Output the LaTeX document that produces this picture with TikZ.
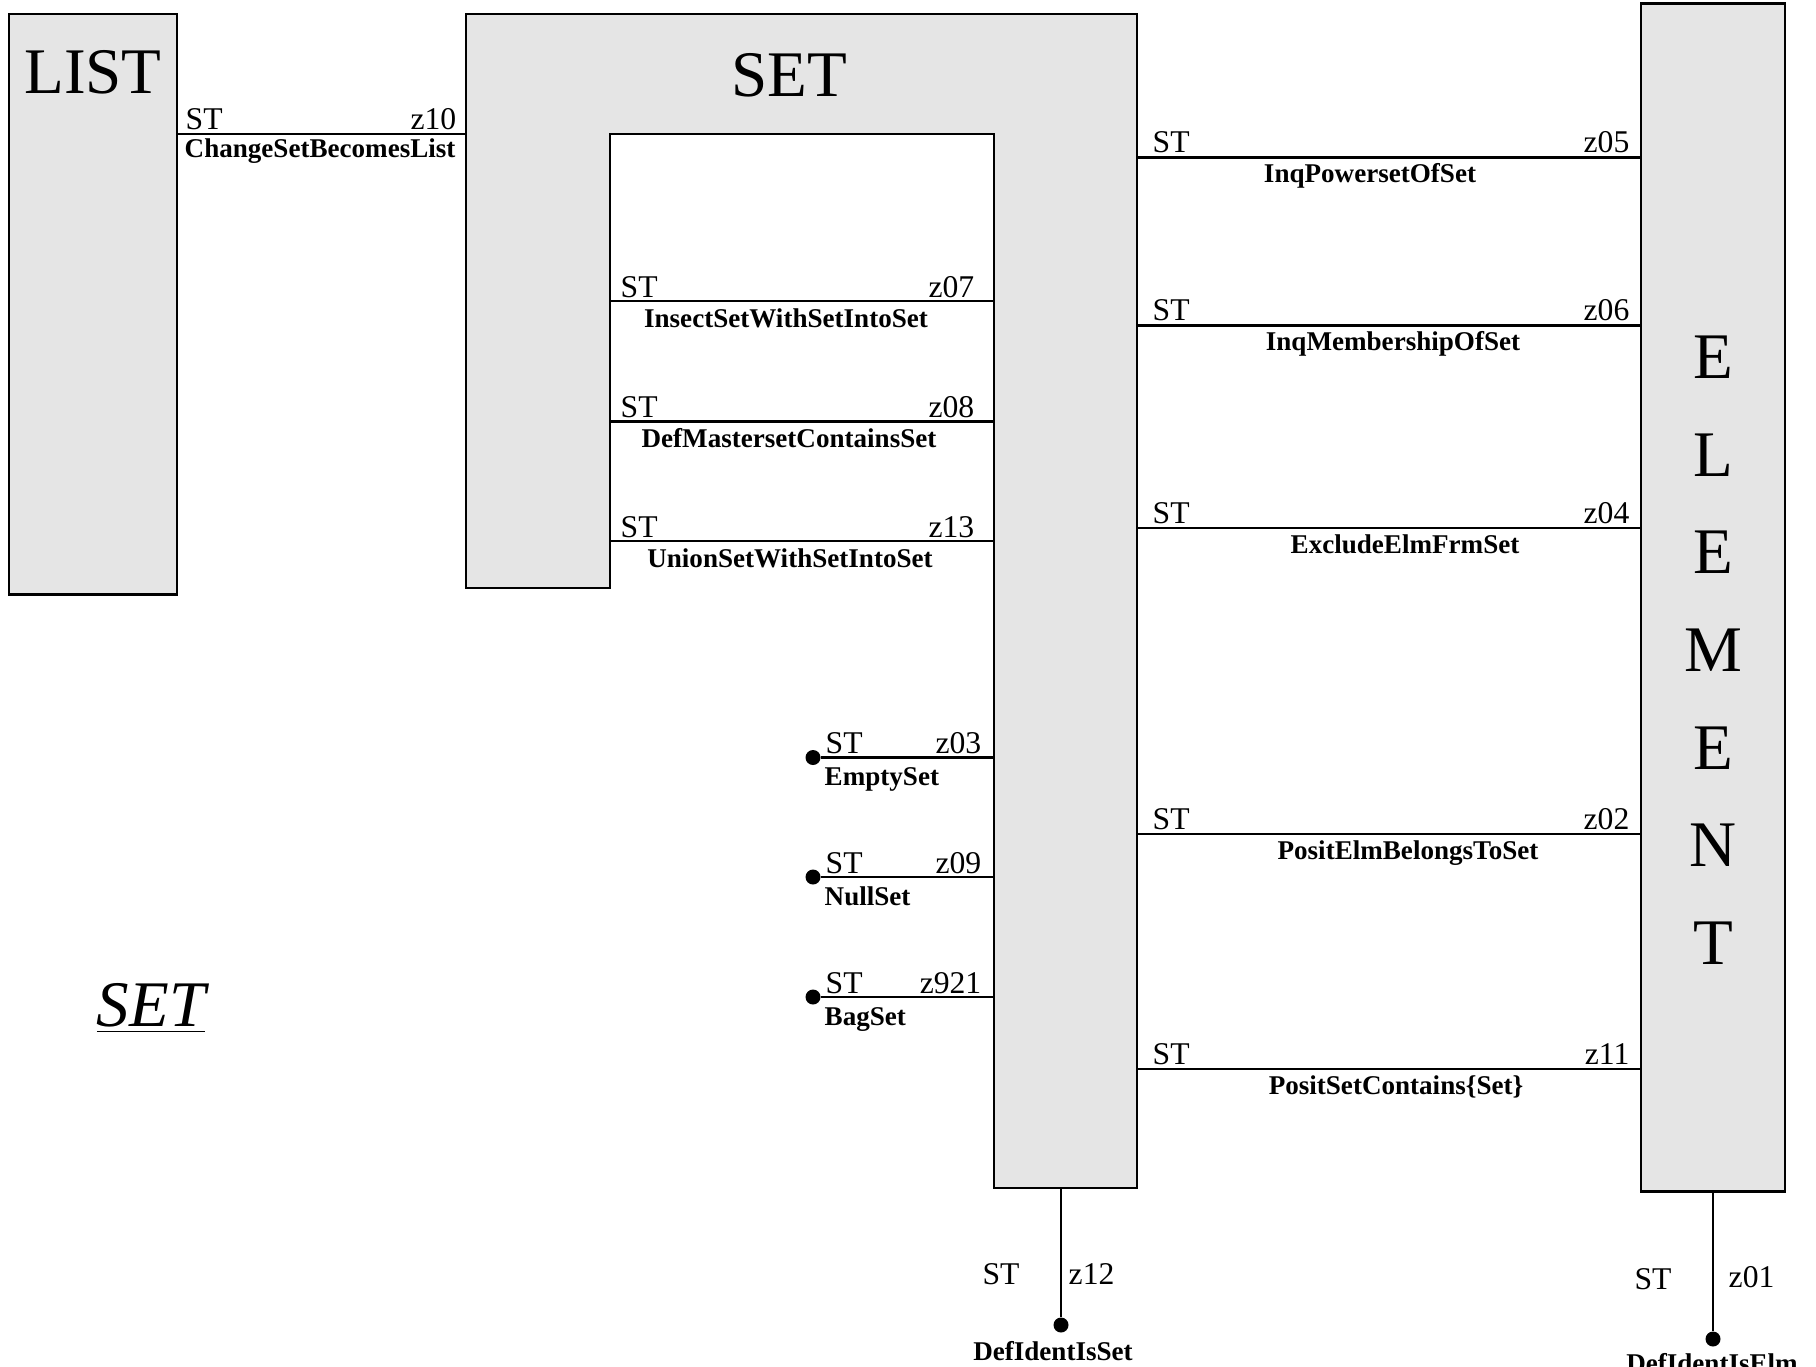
\documentclass[tikz,border=0pt]{standalone}
\usepackage{fontspec}
\setmainfont{Liberation Serif}

\begin{document}
\begin{tikzpicture}[x=0.01cm,y=-0.01cm,
  blk/.style = {draw=black,fill=gray!20,line width=0.75pt,inner sep=0pt},
  link/.style = {draw=black,line width=0.7pt},
  tag/.style = {inner sep=0pt,font=\fontsize{9}{10}\selectfont},
  fn/.style = {inner sep=0pt,font=\fontsize{7.7}{9}\selectfont\bfseries},
  big/.style = {inner sep=0pt,font=\fontsize{18.5}{20}\selectfont},
  dot/.style = {circle,fill=black,inner sep=0pt,minimum size=0.15cm}]
\useasboundingbox (0,0) rectangle (1816,1366);
% boxes
\node[blk,minimum width=1.68cm,minimum height=5.8cm] (lst) at (93,304) {};
\node[blk,minimum width=1.44cm,minimum height=11.87cm] (elm) at (1713,597.5) {};
\draw[blk] (466,14) -- (1137,14) -- (1137,1188) -- (994,1188) -- (994,134)
  -- (610,134) -- (610,588) -- (466,588) -- cycle;
\node[big] (lsttxt) at (93,72) {LIST};
\node[big] (settxt) at (789,75) {SET};
\foreach \c [count=\k from 0] in {E,L,E,M,E,N,T}
    \node[big] (elm\k) at (1713,357+97.7*\k) {\c};
\node[big,anchor=base,font=\fontsize{18.5}{20}\selectfont\itshape] (title) at (151,1026) {\underline{SET}};
% LIST -- SET
\coordinate (s10) at (466,134);
\draw[link] (s10 -| lst.east) -- (s10);
\node[tag,anchor=base west] (st10) at (185,129) {ST};
\node[tag,anchor=base east] (z10) at (457,129) {z10};
\node[fn,anchor=base west] (f10) at (184,157) {ChangeSetBecomesList};
% inside SET
\foreach \y/\z/\lab/\cx in {301/z07/InsectSetWithSetIntoSet/786,
    421.6/z08/DefMastersetContainsSet/789, 541/z13/UnionSetWithSetIntoSet/790}
{
    \coordinate (i\z) at (610,\y);
    \draw[link] (i\z) -- ++(384,0);
    \node[tag,anchor=base west] (st\z) at (620,\y-4) {ST};
    \node[tag,anchor=base east] (\z) at (975,\y-4) {\z};
    \node[fn,anchor=base] (f\z) at (\cx,\y+26) {\lab};
}
% SET -- ELEMENT
\foreach \y/\z/\lab/\cx in {157.5/z05/InqPowersetOfSet/1370,
    325.5/z06/InqMembershipOfSet/1393, 528/z04/ExcludeElmFrmSet/1405,
    834/z02/PositElmBelongsToSet/1408, 1069/z11/PositSetContains\{Set\}/1396}
{
    \coordinate (r\z) at (1137,\y);
    \draw[link] (r\z) -- (r\z -| elm.west);
    \node[tag,anchor=base west] (st\z) at (1152,\y-5) {ST};
    \node[tag,anchor=base east] (\z) at (1630,\y-5) {\z};
    \node[fn,anchor=base] (f\z) at (\cx,\y+25) {\lab};
}
% constants
\foreach \y/\z/\lab in {757.5/z03/EmptySet, 877/z09/NullSet, 997/z921/BagSet}
{
    \node[dot] (d\z) at (813,\y) {};
    \draw[link] (d\z.east) -- (994,\y);
    \node[tag,anchor=base west] (st\z) at (825,\y-4) {ST};
    \node[tag,anchor=base east] (\z) at (982,\y-4) {\z};
    \node[fn,anchor=base west] (f\z) at (824,\y+28) {\lab};
}
% identities
\coordinate (sb) at (1061,1188);
\node[dot] (dset) at (1061,1325) {};
\draw[link] (sb) -- (dset);
\node[tag,anchor=base] (st12) at (1001,1284) {ST};
\node[tag,anchor=base west] (z12) at (1068,1284) {z12};
\node[fn,anchor=base] (f12) at (1053,1360) {DefIdentIsSet};
\node[dot] (delm) at (1713,1339) {};
\draw[link] (elm.south) -- (delm);
\node[tag,anchor=base] (st01) at (1653,1289) {ST};
\node[tag,anchor=base west] (z01) at (1728,1287) {z01};
\node[fn,anchor=base] (f01) at (1712,1372) {DefIdentIsElm};
\end{tikzpicture}
\end{document}
